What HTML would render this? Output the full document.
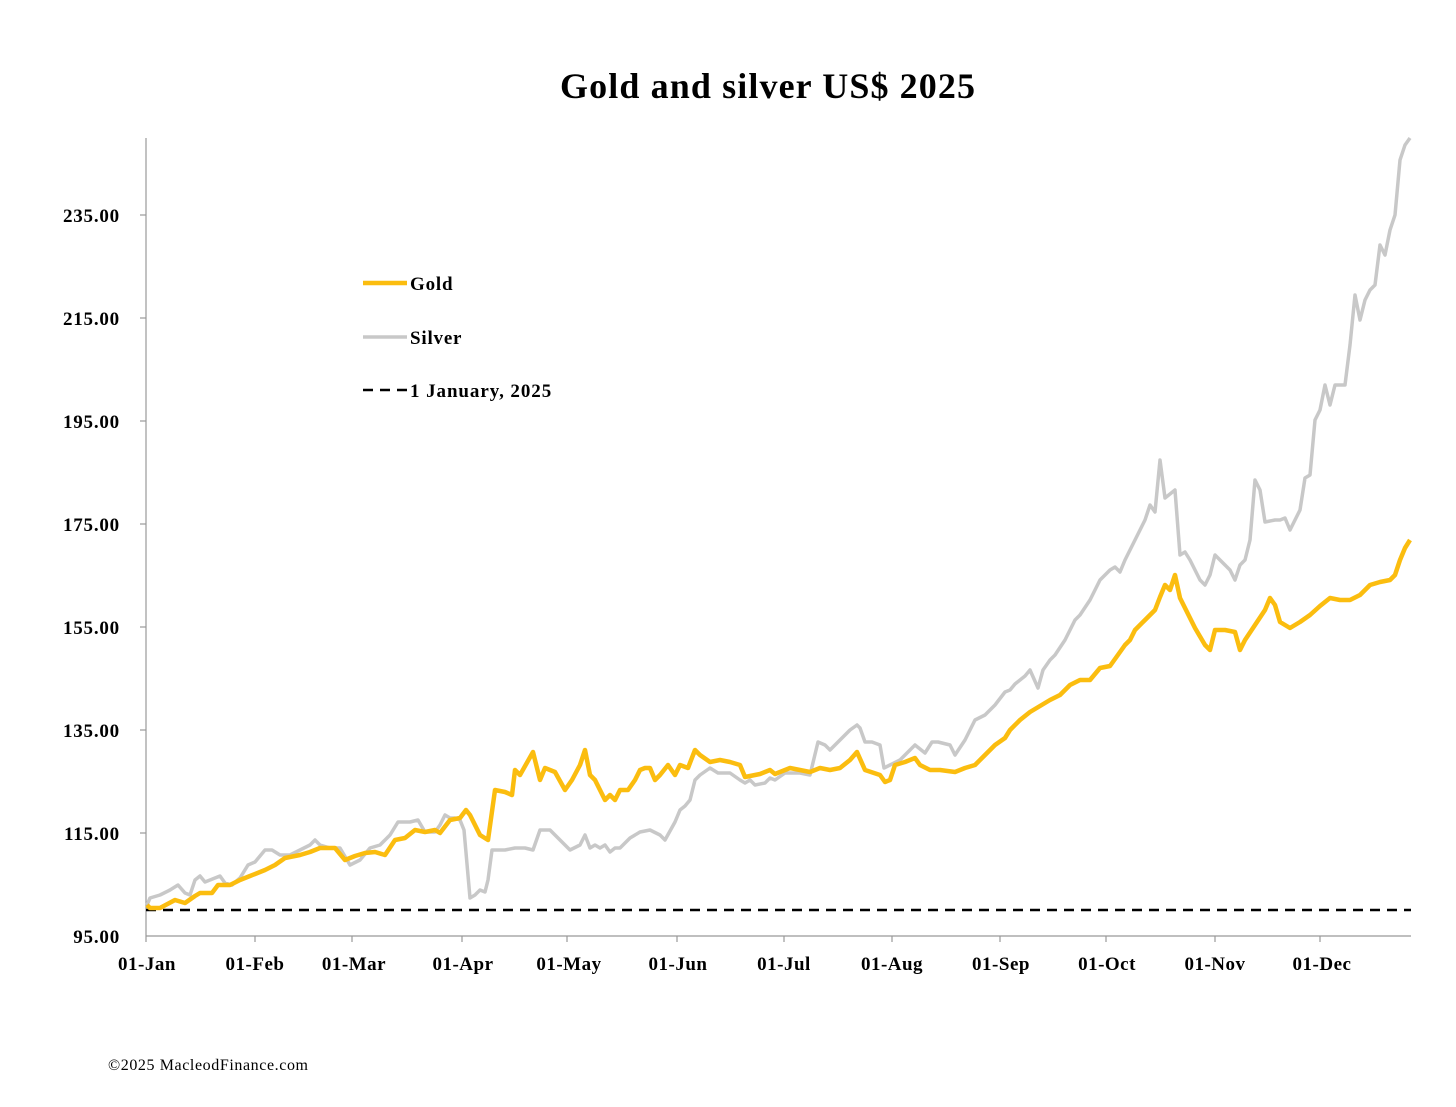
<!DOCTYPE html>
<html><head><meta charset="utf-8"><style>
body{margin:0;background:#fff}
svg text{font-family:"Liberation Serif",serif;fill:#000}
</style></head><body>
<svg width="1456" height="1102" viewBox="0 0 1456 1102" xmlns="http://www.w3.org/2000/svg">
<text x="560" y="98" font-size="36" font-weight="bold" textLength="415" lengthAdjust="spacing">Gold and silver  US$ 2025</text>
<line x1="146" y1="138" x2="146" y2="936" stroke="#999" stroke-width="1.2"/>
<line x1="146" y1="936" x2="1411" y2="936" stroke="#999" stroke-width="1.2"/>
<g stroke="#999" stroke-width="1.2">
<line x1="140" y1="215" x2="146" y2="215"/><line x1="140" y1="318" x2="146" y2="318"/><line x1="140" y1="421" x2="146" y2="421"/><line x1="140" y1="524" x2="146" y2="524"/><line x1="140" y1="627" x2="146" y2="627"/><line x1="140" y1="730" x2="146" y2="730"/><line x1="140" y1="833" x2="146" y2="833"/>
<line x1="146" y1="936" x2="146" y2="942"/><line x1="255" y1="936" x2="255" y2="942"/><line x1="352" y1="936" x2="352" y2="942"/><line x1="462" y1="936" x2="462" y2="942"/><line x1="567" y1="936" x2="567" y2="942"/><line x1="677" y1="936" x2="677" y2="942"/><line x1="784" y1="936" x2="784" y2="942"/><line x1="892" y1="936" x2="892" y2="942"/><line x1="1000" y1="936" x2="1000" y2="942"/><line x1="1106" y1="936" x2="1106" y2="942"/><line x1="1215" y1="936" x2="1215" y2="942"/><line x1="1320" y1="936" x2="1320" y2="942"/>
</g>
<g font-size="19" font-weight="bold" text-anchor="end" letter-spacing="0.8">
<text x="120" y="222">235.00</text><text x="120" y="325">215.00</text><text x="120" y="428">195.00</text><text x="120" y="531">175.00</text><text x="120" y="634">155.00</text><text x="120" y="737">135.00</text><text x="120" y="840">115.00</text><text x="120" y="943">95.00</text>
</g>
<g font-size="19" font-weight="bold" text-anchor="middle" letter-spacing="0.5">
<text x="147" y="970">01-Jan</text><text x="255" y="970">01-Feb</text><text x="354" y="970">01-Mar</text><text x="463" y="970">01-Apr</text><text x="569" y="970">01-May</text><text x="678" y="970">01-Jun</text><text x="784" y="970">01-Jul</text><text x="892" y="970">01-Aug</text><text x="1001" y="970">01-Sep</text><text x="1107" y="970">01-Oct</text><text x="1215" y="970">01-Nov</text><text x="1322" y="970">01-Dec</text>
</g>
<line x1="146" y1="910" x2="1411" y2="910" stroke="#000" stroke-width="2.5" stroke-dasharray="10,7"/>
<polyline fill="none" stroke="#c8c8c8" stroke-width="3.5" stroke-linejoin="round" points="147,905 150,898 160,895 170,890 178,885 185,893 190,895 195,880 200,876 205,882 215,878 220,876 225,883 232,885 240,878 248,865 255,862 265,850 272,850 280,855 290,855 300,850 310,845 315,840 320,845 330,848 340,848 350,865 360,860 370,848 380,845 390,835 398,822 410,822 418,820 425,832 435,832 440,825 445,815 450,818 455,818 460,820 464,830 470,898 475,895 480,890 485,892 488,880 492,850 500,850 505,850 515,848 525,848 533,850 540,830 545,830 550,830 560,840 570,850 580,845 585,835 590,848 595,845 600,848 605,845 610,852 615,848 620,848 630,838 640,832 650,830 660,835 665,840 675,822 680,810 685,806 690,800 695,780 700,775 710,768 718,773 730,773 740,780 745,783 750,780 755,785 765,783 770,778 775,780 785,773 790,773 800,773 810,775 818,742 825,745 830,750 840,740 850,730 857,725 860,728 865,742 872,742 880,745 884,768 890,765 900,760 910,750 915,745 925,753 932,742 938,742 950,745 955,755 965,740 975,720 985,715 995,705 1005,692 1010,690 1015,684 1025,676 1030,670 1038,688 1043,670 1050,660 1055,655 1065,640 1075,620 1080,615 1090,600 1095,590 1100,580 1110,570 1115,567 1120,572 1125,560 1135,540 1145,520 1150,505 1155,512 1160,460 1165,498 1170,494 1175,490 1180,555 1185,552 1190,560 1200,580 1205,585 1210,575 1215,555 1225,565 1230,570 1235,580 1240,565 1245,560 1250,540 1255,480 1260,490 1265,522 1275,520 1280,520 1285,518 1290,530 1300,510 1305,478 1310,475 1315,420 1320,410 1325,385 1330,405 1335,385 1345,385 1350,345 1355,295 1360,320 1365,300 1370,290 1375,285 1380,245 1385,255 1390,230 1395,215 1400,160 1405,145 1410,138"/>
<polyline fill="none" stroke="#fbbd0f" stroke-width="4.5" stroke-linejoin="round" points="147,905 150,908 160,908 175,900 185,903 195,896 200,893 212,893 218,885 230,885 240,880 250,876 265,870 275,865 285,858 300,855 310,852 320,848 335,848 345,860 355,856 365,853 375,852 385,855 395,840 405,838 415,830 425,832 435,830 440,833 450,820 460,818 466,810 470,815 475,825 480,835 488,840 495,790 505,792 512,795 515,770 520,775 533,752 540,780 545,768 555,772 565,790 572,780 580,765 585,750 590,775 595,780 600,790 605,800 610,795 615,800 620,790 628,790 635,780 640,770 645,768 650,768 655,780 660,775 668,765 675,775 680,765 688,768 695,750 700,755 710,762 720,760 730,762 740,765 745,777 760,774 770,770 775,774 790,768 800,770 810,772 820,768 830,770 840,768 850,760 857,752 865,770 880,775 885,782 890,780 895,765 905,762 915,758 920,765 930,770 940,770 955,772 965,768 975,765 985,755 995,745 1005,738 1010,730 1020,720 1030,712 1040,706 1050,700 1060,695 1070,685 1080,680 1090,680 1100,668 1110,666 1125,645 1130,640 1135,630 1145,620 1155,610 1160,597 1165,585 1170,590 1175,575 1180,598 1185,608 1195,628 1205,645 1210,650 1215,630 1225,630 1235,632 1240,650 1245,640 1255,625 1265,610 1270,598 1275,605 1280,622 1290,628 1300,622 1310,615 1320,606 1330,598 1340,600 1350,600 1360,595 1370,585 1380,582 1390,580 1395,575 1400,560 1405,548 1410,540"/>
<line x1="363" y1="283" x2="407" y2="283" stroke="#fbbd0f" stroke-width="4.5"/>
<line x1="363" y1="337" x2="407" y2="337" stroke="#c8c8c8" stroke-width="3.5"/>
<line x1="363" y1="390" x2="407" y2="390" stroke="#000" stroke-width="2.5" stroke-dasharray="10,7"/>
<g font-size="19" font-weight="bold" letter-spacing="0.8">
<text x="410" y="290">Gold</text><text x="410" y="344">Silver</text><text x="410" y="397" textLength="142" lengthAdjust="spacing">1 January, 2025</text>
</g>
<text x="108" y="1070" font-size="16" textLength="200" lengthAdjust="spacing">©2025 MacleodFinance.com</text>
</svg>
</body></html>
